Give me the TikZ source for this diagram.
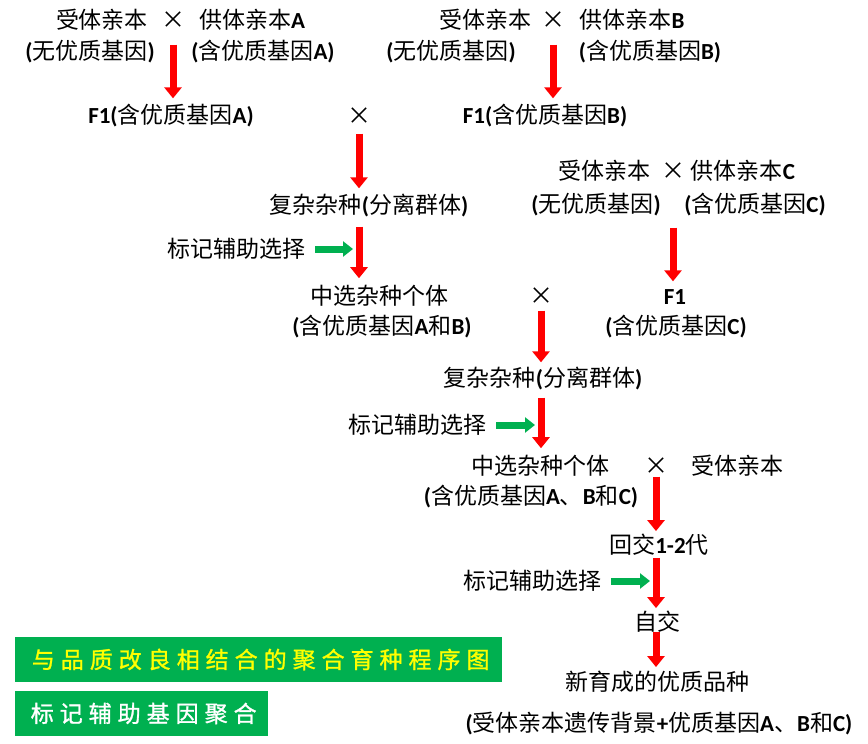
\documentclass[tikz,border=0pt]{standalone}
\usepackage{fontspec}
\usepackage{tikz}
\usepackage{xcolor}
\usetikzlibrary{arrows.meta, positioning, calc}
\setmainfont{Noto Sans CJK SC}
\newfontfamily\latinfont{Carlito}
\newfontfamily\boxfont{Noto Sans CJK SC}[LetterSpace=26, FakeBold=1.2]
\newcommand{\en}[1]{{\latinfont\bfseries #1}}
\definecolor{cRed}{RGB}{255,0,0}
\definecolor{cGreen}{RGB}{0,176,80}
\definecolor{cYellow}{RGB}{255,255,0}
\tikzset{
    txt/.style       ={inner sep=0pt, font=\fontsize{23}{26}\selectfont},
    cross/.style     ={inner sep=0pt, font=\fontsize{24}{26}\selectfont},
    redarrow/.style  ={-{Triangle[length=11pt, width=17pt]}, line width=7pt, draw=cRed},
    greenarrow/.style={-{Triangle[length=10pt, width=15pt]}, line width=7pt, draw=cGreen},
    titlebox/.style  ={rectangle, fill=cGreen, inner sep=0pt, anchor=west, minimum height=45pt, font=\boxfont\fontsize{23}{25}\selectfont},
}

\begin{document}
\begin{tikzpicture}[x=1pt, y=-1pt]
    \useasboundingbox (0,0) rectangle (868,744);
    % first cross: A
    \node[txt] (recA) at (102,20) {受体亲本};
    \node[cross] (crA) at (173,20) {×};
    \node[txt] (donA) at (252,20) {供体亲本\en{A}};
    \node[txt] (recAg) at (90,52) {\en{(}无优质基因\en{)}};
    \node[txt] (donAg) at (263,52) {\en{(}含优质基因\en{A)}};
    \node[txt] (f1A) at (171,116) {\en{F1(}含优质基因\en{A)}};
    \node[cross] (crAB) at (359,116) {×};
    % second cross: B
    \node[txt] (recB) at (485,20) {受体亲本};
    \node[cross] (crB) at (553,20) {×};
    \node[txt] (donB) at (632,20) {供体亲本\en{B}};
    \node[txt] (recBg) at (451,52) {\en{(}无优质基因\en{)}};
    \node[txt] (donBg) at (650,52) {\en{(}含优质基因\en{B)}};
    \node[txt] (f1B) at (545,116) {\en{F1(}含优质基因\en{B)}};
    % A x B
    \node[txt] (hyb1) at (369,205) {复杂杂种\en{(}分离群体\en{)}};
    \node[txt] (mas1) at (236,249) {标记辅助选择};
    \node[txt] (sel1) at (379,296) {中选杂种个体};
    \node[txt] (sel1g) at (382,327) {\en{(}含优质基因\en{A}和\en{B)}};
    \node[cross] (crABC) at (541,296) {×};
    % third cross: C
    \node[txt] (recC) at (604,171) {受体亲本};
    \node[cross] (crC) at (673,171) {×};
    \node[txt] (donC) at (743,171) {供体亲本\en{C}};
    \node[txt] (recCg) at (596,205) {\en{(}无优质基因\en{)}};
    \node[txt] (donCg) at (755,205) {\en{(}含优质基因\en{C)}};
    \node[txt] (f1C) at (675,297) {\en{F1}};
    \node[txt] (f1Cg) at (676,327) {\en{(}含优质基因\en{C)}};
    % AB x C
    \node[txt] (hyb2) at (543,378) {复杂杂种\en{(}分离群体\en{)}};
    \node[txt] (mas2) at (417,425) {标记辅助选择};
    \node[txt] (sel2) at (540,466) {中选杂种个体};
    \node[cross] (crBC) at (656,466) {×};
    \node[txt] (recD) at (737,466) {受体亲本};
    \node[txt] (sel2g) at (531,497) {\en{(}含优质基因\en{A}、\en{B}和\en{C)}};
    \node[txt] (bc) at (659,545) {回交\en{1-2}代};
    \node[txt] (mas3) at (532,581) {标记辅助选择};
    \node[txt] (self) at (657,622) {自交};
    \node[txt] (newv) at (657,682) {新育成的优质品种};
    \node[txt] (newvg) at (659,724) {\en{(}受体亲本遗传背景\en{+}优质基因\en{A}、\en{B}和\en{C)}};
    % titles
    \node[titlebox, minimum width=487pt, text=cYellow] (title1) at (15,659.5) {\hspace{4pt}与品质改良相结合的聚合育种程序图\hfill};
    \node[titlebox, minimum width=253pt, text=white] (title2) at (15,713.5) {\hspace{4pt}标记辅助基因聚合\hfill};
    % red arrows
    \draw[redarrow, shorten <=16pt, shorten >=6pt] (crA.south) -- (crA.south |- f1A.north);
    \draw[redarrow, shorten <=16pt, shorten >=6pt] (crB.south) -- (crB.south |- f1B.north);
    \draw[redarrow, shorten <=9pt, shorten >=5pt] (crAB.south) -- (crAB.south |- hyb1.north);
    \draw[redarrow, shorten <=10pt, shorten >=7pt] (crAB |- hyb1.south) -- (crAB |- sel1.north);
    \draw[redarrow, shorten <=11pt, shorten >=8pt] (crC |- donCg.south) -- (crC |- f1C.north);
    \draw[redarrow, shorten <=6pt, shorten >=4pt] (crABC.south) -- (crABC.south |- hyb2.north);
    \draw[redarrow, shorten <=8pt, shorten >=7pt] (crABC |- hyb2.south) -- (crABC |- sel2.north);
    \draw[redarrow, shorten <=2pt, shorten >=3pt] (crBC.south) -- (crBC.south |- bc.north);
    \draw[redarrow, shorten <=2pt, shorten >=3pt] (crBC |- bc.south) -- (crBC |- self.north);
    \draw[redarrow, shorten <=-1pt, shorten >=4pt] (crBC |- self.south) -- (crBC |- newv.north);
    % green arrows
    \draw[greenarrow] ([xshift=10pt]mas1.east) -- ([xshift=-6pt]mas1 -| crAB);
    \draw[greenarrow] ([xshift=10pt]mas2.east) -- ([xshift=-6pt]mas2 -| crABC);
    \draw[greenarrow] ([xshift=10pt]mas3.east) -- ([xshift=-6pt]mas3 -| crBC);
\end{tikzpicture}
\end{document}
